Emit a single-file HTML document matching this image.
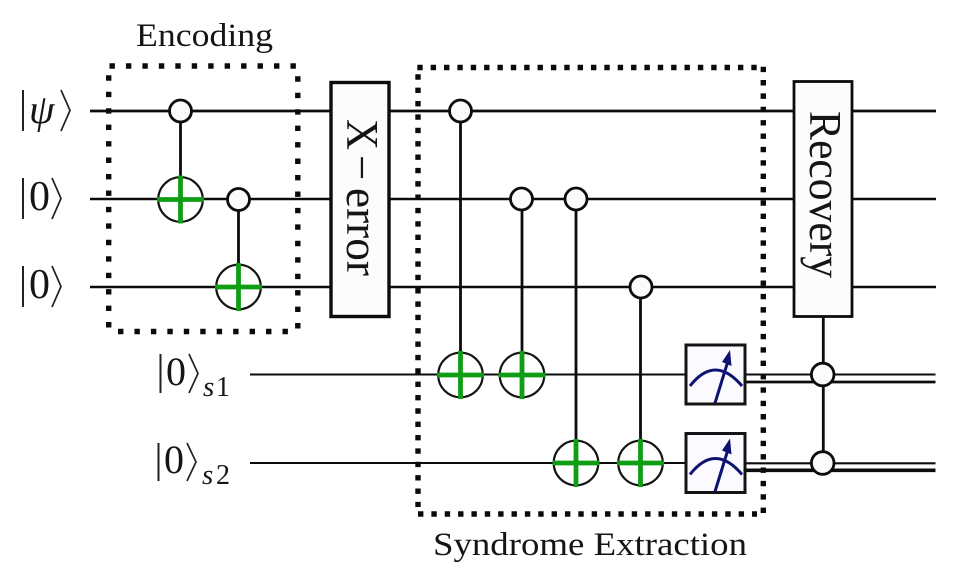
<!DOCTYPE html>
<html lang="en">
<head>
<meta charset="utf-8">
<title>Bit-flip error correction circuit</title>
<style>
html,body{margin:0;padding:0;background:#fff;width:965px;height:571px;overflow:hidden}
svg{display:block}
text{font-family:"Liberation Serif","DejaVu Serif",serif;fill:#151515}
.w{stroke:#0c0c0c;fill:none}
.c{fill:#fbfbfb;stroke:#0c0c0c;stroke-width:2.8}
.t{fill:none;stroke:#141414;stroke-width:2.2}
.g{stroke:#0f9d14;stroke-width:4.8;fill:none}
.v{stroke:#0c0c0c;stroke-width:2.8;fill:none}
.m{fill:#fbfbff;stroke:#141414;stroke-width:3}
.n{stroke:#0e1270;fill:none;stroke-width:3}
.d{stroke:#0a0a0a;stroke-width:5.4;fill:none}
.e{stroke-dasharray:5.4 11.05}
.s{stroke-dasharray:5.4 7.96}
.b{stroke:#222;stroke-width:2;fill:none}
.a{stroke:#222;stroke-width:1.7;fill:none}
</style>
</head>
<body>
<svg width="965" height="571" viewBox="0 0 965 571" xmlns="http://www.w3.org/2000/svg">
  <rect width="965" height="571" fill="#fff"/>

  <!-- wires -->
  <line class="w" x1="90" y1="111" x2="936" y2="111" stroke-width="2.8"/>
  <line class="w" x1="90" y1="199" x2="936" y2="199" stroke-width="2.5"/>
  <line class="w" x1="90" y1="287" x2="936" y2="287" stroke-width="2.5"/>
  <line class="w" x1="250" y1="374.5" x2="690" y2="374.5" stroke-width="2.1"/>
  <line class="w" x1="250" y1="463" x2="690" y2="463" stroke-width="2.1"/>
  <line class="w" x1="745" y1="374.5" x2="935.500" y2="374.5" stroke-width="2.1"/>
  <line class="w" x1="745" y1="382" x2="935.500" y2="382" stroke-width="2.8"/>
  <line class="w" x1="745" y1="463.300" x2="935.500" y2="463.300" stroke-width="2.1"/>
  <line class="w" x1="745" y1="470.300" x2="935.500" y2="470.300" stroke-width="3.6"/>

  <!-- dotted groups -->
  <g>
    <line class="d e" x1="109.500" y1="66" x2="297" y2="66"/>
    <line class="d e" x1="297.800" y1="76.300" x2="297.800" y2="330"/>
    <line class="d e" x1="118" y1="331.500" x2="289" y2="331.500"/>
    <line class="d e" x1="108.700" y1="75.300" x2="108.700" y2="328"/>
  </g>
  <g>
    <line class="d s" x1="417.300" y1="67.500" x2="757" y2="67.500"/>
    <line class="d s" x1="763.300" y1="66.700" x2="763.300" y2="513.500"/>
    <line class="d s" x1="418" y1="514" x2="757" y2="514"/>
    <line class="d s" x1="418" y1="74.300" x2="418" y2="507"/>
  </g>

  <!-- encoding CNOTs -->
  <g>
    <line class="v" x1="180.500" y1="111" x2="180.500" y2="199"/>
    <circle class="t" cx="180.500" cy="199.500" r="22.300"/>
    <path class="g" d="M157 199.500H204M180.500 175.500V223.500"/>
    <circle class="c" cx="180.500" cy="111" r="11"/>
  </g>
  <g>
    <line class="v" x1="238.500" y1="199" x2="238.500" y2="287"/>
    <circle class="t" cx="238.500" cy="287" r="22.300"/>
    <path class="g" d="M215 287H262M238.500 263V311"/>
    <circle class="c" cx="238.500" cy="199.500" r="11"/>
  </g>

  <!-- syndrome CNOTs -->
  <g>
    <line class="v" x1="460.500" y1="111" x2="460.500" y2="375"/>
    <circle class="t" cx="460.500" cy="375" r="22.300"/>
    <path class="g" d="M437 375H484M460.500 351V399"/>
    <circle class="c" cx="460.500" cy="111" r="11"/>
  </g>
  <g>
    <line class="v" x1="522" y1="199" x2="522" y2="375"/>
    <circle class="t" cx="522" cy="375" r="22.300"/>
    <path class="g" d="M498.500 375H545.500M522 351V399"/>
    <circle class="c" cx="521.500" cy="199" r="11"/>
  </g>
  <g>
    <line class="v" x1="576" y1="199" x2="576" y2="463"/>
    <circle class="t" cx="576" cy="463" r="22.300"/>
    <path class="g" d="M552.500 463H599.500M576 439V487"/>
    <circle class="c" cx="576" cy="199" r="11"/>
  </g>
  <g>
    <line class="v" x1="640.500" y1="287" x2="640.500" y2="463"/>
    <circle class="t" cx="640.500" cy="463" r="22.300"/>
    <path class="g" d="M617 463H664M640.500 439V487"/>
    <circle class="c" cx="641" cy="287" r="11"/>
  </g>

  <!-- gate boxes -->
  <g>
    <rect x="331" y="82.500" width="58" height="234" fill="#fcfcfc" stroke="#0c0c0c" stroke-width="3.400"/>
    <g>
      <text transform="translate(347,119) rotate(90)" font-size="45" textLength="31" lengthAdjust="spacingAndGlyphs">X</text>
      <text transform="translate(347,155) rotate(90)" font-size="45">−</text>
      <text transform="translate(347,188) rotate(90)" font-size="45" textLength="88" lengthAdjust="spacingAndGlyphs">error</text>
    </g>
  </g>
  <line class="v" x1="823.300" y1="316" x2="823.300" y2="463" stroke-width="3"/>
  <g>
    <rect x="794" y="81.500" width="58" height="235" fill="#fcfcfc" stroke="#0c0c0c" stroke-width="2.800"/>
    <text transform="translate(810,111) rotate(90)" font-size="45" textLength="167" lengthAdjust="spacingAndGlyphs">Recovery</text>
  </g>
  <circle class="c" cx="822.700" cy="374.500" r="11.300"/>
  <circle class="c" cx="822.700" cy="463" r="11.300"/>

  <!-- measurement meters -->
  <g>
    <rect class="m" x="686" y="345" width="59" height="59"/>
    <path class="n" d="M690 386Q715 354 742 386"/>
    <line class="n" x1="715" y1="403" x2="728" y2="361" stroke-width="3.400"/>
    <path d="M730 350L731.500 366L722 362Z" fill="#0e1270"/>
  </g>
  <g>
    <rect class="m" x="686" y="433.500" width="59" height="59"/>
    <path class="n" d="M690 474.500Q715 442.500 742 474.500"/>
    <line class="n" x1="715" y1="491.500" x2="728" y2="449.500" stroke-width="3.400"/>
    <path d="M730 438.500L731.500 454.500L722 450.500Z" fill="#0e1270"/>
  </g>

  <!-- labels -->
  <text x="136" y="46" font-size="33" textLength="137" lengthAdjust="spacingAndGlyphs">Encoding</text>
  <text x="433" y="555" font-size="33" textLength="314" lengthAdjust="spacingAndGlyphs">Syndrome Extraction</text>

  <g>
    <line class="b" x1="23" y1="90" x2="23" y2="131"/>
    <text x="29" y="123" font-size="41" font-style="italic">ψ</text>
    <path class="a" d="M61 90L70 110.500L61 131"/>
  </g>
  <g>
    <line class="b" x1="23" y1="178" x2="23" y2="219"/>
    <text x="29" y="210" font-size="42">0</text>
    <path class="a" d="M52 178L61 198.500L52 219"/>
  </g>
  <g>
    <line class="b" x1="23" y1="266" x2="23" y2="307"/>
    <text x="29" y="298" font-size="42">0</text>
    <path class="a" d="M52 266L61 286.500L52 307"/>
  </g>
  <g>
    <line class="b" x1="160.500" y1="354" x2="160.500" y2="393"/>
    <text x="166" y="385" font-size="40">0</text>
    <path class="a" d="M189 354L198 373.500L189 393"/>
    <text x="203" y="396" font-size="29" font-style="italic">s</text>
    <text x="216" y="396" font-size="28">1</text>
  </g>
  <g>
    <line class="b" x1="158.500" y1="443" x2="158.500" y2="481"/>
    <text x="164" y="473" font-size="40">0</text>
    <path class="a" d="M187 443L196 462L187 481"/>
    <text x="202" y="484" font-size="29" font-style="italic">s</text>
    <text x="216" y="484" font-size="28">2</text>
  </g>
</svg>
</body>
</html>
